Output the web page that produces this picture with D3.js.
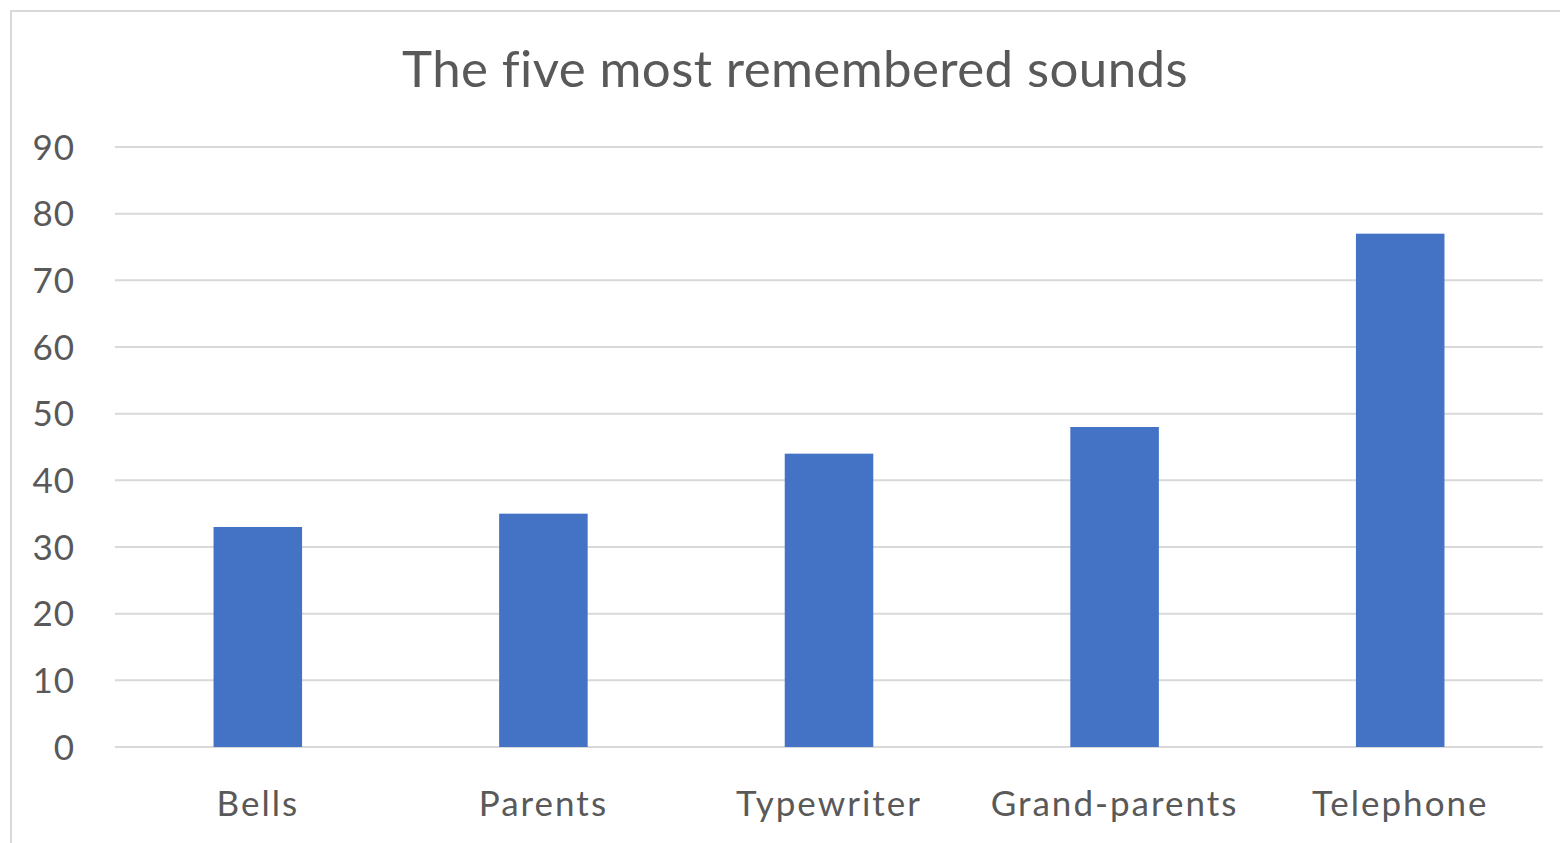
<!DOCTYPE html>
<html>
<head>
<meta charset="utf-8">
<script src="https://cdn.jsdelivr.net/npm/d3@7"></script>
<style>
  body { margin: 0; background: #fff; }
  svg text { font-family: Lato, "Open Sans", sans-serif; fill: #595959; }
</style>
</head>
<body>
<div id="chart"></div>
<script>
var categories = ["Bells", "Parents", "Typewriter", "Grand-parents", "Telephone"];
var values = [33, 35, 44, 48, 77];
var yTicks = [0, 10, 20, 30, 40, 50, 60, 70, 80, 90];
var title = "The five most remembered sounds";

const W = 1560, H = 843;
const margin = {top: 147, right: 17, bottom: 96, left: 115},
      width = W - margin.left - margin.right,
      height = H - margin.top - margin.bottom;

var svg = d3.select("#chart")
  .append("svg")
  .attr("width", W)
  .attr("height", H);

// chart frame
svg.append("rect")
  .attr("x", 11)
  .attr("y", 11)
  .attr("width", W + 10)
  .attr("height", H + 10)
  .style("fill", "none")
  .style("stroke", "#d9d9d9")
  .style("stroke-width", 2);

svg.append("text")
  .attr("x", 795)
  .attr("y", 87)
  .style("text-anchor", "middle")
  .style("font-size", "51px")
  .style("letter-spacing", "0.4px")
  .text(title);

var g = svg.append("g")
  .attr("transform", "translate(" + margin.left + "," + margin.top + ")");

var x = d3.scaleBand()
  .domain(categories)
  .range([0, width])
  .paddingInner(0.69)
  .paddingOuter(0.345);

var y = d3.scaleLinear()
  .domain([0, 90])
  .range([height, 0]);

// gridlines
g.selectAll(".grid")
  .data(yTicks)
  .enter()
  .append("line")
  .attr("class", "grid")
  .attr("x1", 0)
  .attr("x2", width)
  .attr("y1", function(d) {return y(d);})
  .attr("y2", function(d) {return y(d);})
  .style("stroke", "#d9d9d9")
  .style("stroke-width", 2);

var yAxis = d3.axisLeft(y).tickValues(yTicks).tickSize(0).tickPadding(40);
g.append("g")
  .attr("class", "axis-y")
  .call(yAxis)
  .call(function(a) {a.select(".domain").remove();})
  .selectAll("text")
  .style("font-size", "35px")
  .style("letter-spacing", "1px")
  .attr("dy", "0.35em");

g.selectAll(".bar")
  .data(values)
  .enter()
  .append("rect")
  .attr("class", "bar")
  .style("fill", "#4472c4")
  .attr("x", function(d, i) {return x(categories[i]);})
  .attr("y", function(d) {return y(d);})
  .attr("width", x.bandwidth())
  .attr("height", function(d) {return height - y(d);});

var xAxis = d3.axisBottom(x).tickSize(0).tickPadding(44);
g.append("g")
  .attr("class", "axis-x")
  .attr("transform", "translate(0," + height + ")")
  .call(xAxis)
  .call(function(a) {a.select(".domain").remove();})
  .selectAll("text")
  .style("font-size", "35px")
  .style("letter-spacing", "2px");
</script>
</body>
</html>
